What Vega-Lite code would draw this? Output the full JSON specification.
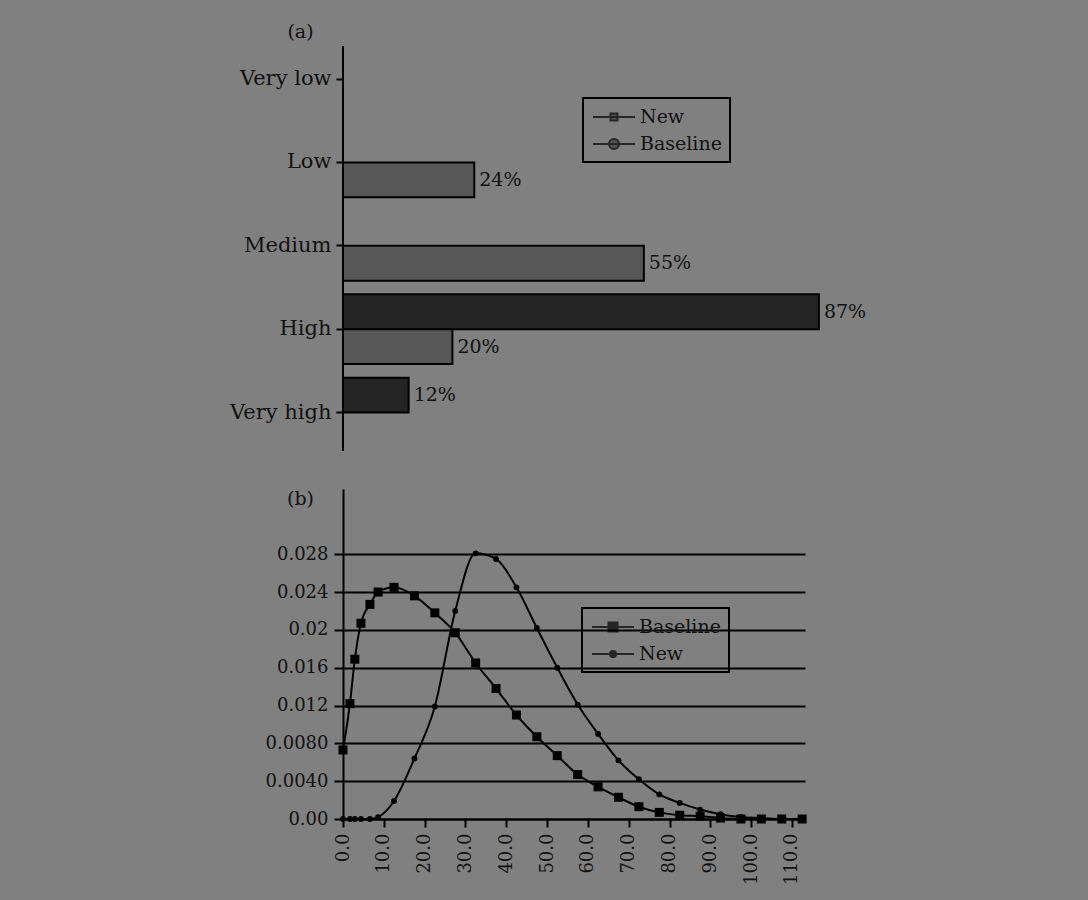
{
  "$schema": "https://vega.github.io/schema/vega-lite/v6.json",
  "background": "#808080",
  "autosize": {"type": "pad"},
  "padding": {"left": 229, "top": 22, "right": 198, "bottom": 20},
  "config": {
    "view": {"stroke": null},
    "font": "DejaVu Serif",
    "axis": {
      "labelFont": "DejaVu Serif",
      "titleFont": "DejaVu Serif",
      "labelColor": "#111",
      "titleColor": "#111",
      "titleFontWeight": "normal",
      "domainColor": "#000",
      "tickColor": "#000",
      "gridColor": "#000",
      "gridOpacity": 1
    },
    "legend": {
      "labelFont": "DejaVu Serif",
      "labelColor": "#111",
      "labelFontSize": 19,
      "labelLimit": 0,
      "strokeColor": "#000",
      "strokeWidth": 2,
      "padding": 8,
      "rowPadding": 6,
      "symbolSize": 400,
      "symbolStrokeWidth": 2,
      "labelOffset": 27
    }
  },
  "datasets": {
    "ratings": [
      {"level": "Low", "group": "New", "share": 0.24},
      {"level": "Medium", "group": "New", "share": 0.55},
      {"level": "Medium", "group": "Baseline", "share": 0.87},
      {"level": "High", "group": "New", "share": 0.20},
      {"level": "High", "group": "Baseline", "share": 0.12}
    ],
    "curves": [
      {"series": "Baseline", "value": 0, "density": 0.0073},
      {"series": "Baseline", "value": 1.7, "density": 0.0122},
      {"series": "Baseline", "value": 2.9, "density": 0.0169},
      {"series": "Baseline", "value": 4.4, "density": 0.0207},
      {"series": "Baseline", "value": 6.6, "density": 0.0227},
      {"series": "Baseline", "value": 8.6, "density": 0.0240},
      {"series": "Baseline", "value": 12.5, "density": 0.0245},
      {"series": "Baseline", "value": 17.5, "density": 0.0236},
      {"series": "Baseline", "value": 22.5, "density": 0.0218},
      {"series": "Baseline", "value": 27.5, "density": 0.0197},
      {"series": "Baseline", "value": 32.5, "density": 0.0165},
      {"series": "Baseline", "value": 37.5, "density": 0.0138},
      {"series": "Baseline", "value": 42.5, "density": 0.0110},
      {"series": "Baseline", "value": 47.5, "density": 0.0087},
      {"series": "Baseline", "value": 52.5, "density": 0.0067},
      {"series": "Baseline", "value": 57.5, "density": 0.0047},
      {"series": "Baseline", "value": 62.5, "density": 0.0034},
      {"series": "Baseline", "value": 67.5, "density": 0.0023},
      {"series": "Baseline", "value": 72.5, "density": 0.0013},
      {"series": "Baseline", "value": 77.5, "density": 0.0007},
      {"series": "Baseline", "value": 82.5, "density": 0.0004},
      {"series": "Baseline", "value": 87.5, "density": 0.0003},
      {"series": "Baseline", "value": 92.5, "density": 0.0001},
      {"series": "Baseline", "value": 97.5, "density": 0},
      {"series": "Baseline", "value": 102.5, "density": 0},
      {"series": "Baseline", "value": 107.5, "density": 0},
      {"series": "Baseline", "value": 112.5, "density": 0},
      {"series": "New", "value": 0, "density": 0},
      {"series": "New", "value": 1.7, "density": 0},
      {"series": "New", "value": 2.9, "density": 0},
      {"series": "New", "value": 4.4, "density": 0},
      {"series": "New", "value": 6.6, "density": 0},
      {"series": "New", "value": 8.6, "density": 0.0002},
      {"series": "New", "value": 12.5, "density": 0.0019},
      {"series": "New", "value": 17.5, "density": 0.0064},
      {"series": "New", "value": 22.5, "density": 0.0119},
      {"series": "New", "value": 27.5, "density": 0.0220},
      {"series": "New", "value": 32.5, "density": 0.0281},
      {"series": "New", "value": 37.5, "density": 0.0275},
      {"series": "New", "value": 42.5, "density": 0.0245},
      {"series": "New", "value": 47.5, "density": 0.0202},
      {"series": "New", "value": 52.5, "density": 0.0160},
      {"series": "New", "value": 57.5, "density": 0.0121},
      {"series": "New", "value": 62.5, "density": 0.0090},
      {"series": "New", "value": 67.5, "density": 0.0062},
      {"series": "New", "value": 72.5, "density": 0.0042},
      {"series": "New", "value": 77.5, "density": 0.0026},
      {"series": "New", "value": 82.5, "density": 0.0017},
      {"series": "New", "value": 87.5, "density": 0.0010},
      {"series": "New", "value": 92.5, "density": 0.0005},
      {"series": "New", "value": 97.5, "density": 0.0002},
      {"series": "New", "value": 102.5, "density": 0.0001},
      {"series": "New", "value": 107.5, "density": 0},
      {"series": "New", "value": 112.5, "density": 0}
    ]
  },
  "spacing": 38,
  "bounds": "flush",
  "resolve": {
    "scale": {"x": "independent", "y": "independent", "shape": "independent"},
    "legend": {"shape": "independent"}
  },
  "vconcat": [
    {
      "width": 547,
      "height": 405,
      "data": {"name": "ratings"},
      "layer": [
        {
          "mark": {"type": "rule", "stroke": "#000", "strokeWidth": 2},
          "encoding": {"x": {"datum": 0, "type": "quantitative", "axis": null}}
        },
        {
          "mark": {"type": "bar", "stroke": "#000", "strokeWidth": 2},
          "encoding": {
            "y": {
              "field": "level",
              "type": "nominal",
              "scale": {
                "domain": ["Very low", "Low", "Medium", "High", "Very high"],
                "range": [33, 450],
                "paddingInner": 0,
                "paddingOuter": 0
              },
              "axis": {
                "title": "(a)",
                "titleAngle": 0,
                "titleX": -43,
                "titleY": -5,
                "titleAlign": "center",
                "titleBaseline": "bottom",
                "titleFontSize": 19,
                "bandPosition": 0,
                "labelOffset": -41.7,
                "domain": false,
                "grid": false,
                "tickSize": 7,
                "tickWidth": 2,
                "labelFontSize": 21,
                "labelPadding": 5
              }
            },
            "yOffset": {
              "field": "group",
              "type": "nominal",
              "scale": {"domain": ["New", "Baseline"], "paddingInner": 0.28, "paddingOuter": 0}
            },
            "x": {
              "field": "share",
              "type": "quantitative",
              "stack": null,
              "scale": {"domain": [0, 1], "nice": false},
              "axis": null
            },
            "fill": {"condition": {"test": "datum.group === 'New'", "value": "#575757"}, "value": "#242424"}
          }
        },
        {
          "mark": {"type": "text", "align": "left", "baseline": "middle", "dx": 5, "fontSize": 19, "font": "DejaVu Serif", "color": "#111"},
          "encoding": {
            "y": {"field": "level", "type": "nominal"},
            "yOffset": {"field": "group", "type": "nominal"},
            "x": {"field": "share", "type": "quantitative", "axis": null},
            "text": {"field": "share", "type": "quantitative", "format": ".0%"}
          }
        },
        {
          "transform": [{"filter": "false"}],
          "mark": {"type": "point", "filled": false, "fill": "#3c3c3c", "stroke": "#000", "strokeWidth": 2},
          "encoding": {
            "y": {"field": "level", "type": "nominal"},
            "yOffset": {"field": "group", "type": "nominal"},
            "x": {"field": "share", "type": "quantitative", "axis": null},
            "shape": {
              "field": "group",
              "type": "nominal",
              "scale": {
                "domain": ["New", "Baseline"],
                "range": [
                  "M-0.9,0H3.3M0.85,-0.35H1.55V0.35H0.85Z",
                  "M-0.9,0H3.3M1.7,0A0.5,0.5 0 1,1 0.7,0A0.5,0.5 0 1,1 1.7,0Z"
                ]
              },
              "legend": {"orient": "none", "legendX": 240, "legendY": 52, "title": null}
            }
          }
        }
      ]
    },
    {
      "width": 462,
      "height": 330,
      "data": {"name": "curves"},
      "encoding": {
        "x": {
          "field": "value",
          "type": "quantitative",
          "scale": {"domain": [0, 113.2], "nice": false},
          "axis": {
            "title": null,
            "values": [0, 10, 20, 30, 40, 50, 60, 70, 80, 90, 100, 110],
            "labelExpr": "format(datum.value, '.1f')",
            "labelAngle": -90,
            "labelFontSize": 18,
            "labelPadding": 6,
            "tickSize": 8,
            "tickWidth": 2,
            "domainWidth": 2,
            "grid": false
          }
        },
        "y": {
          "field": "density",
          "type": "quantitative",
          "scale": {"domain": [0, 0.0349], "nice": false},
          "axis": {
            "title": "(b)",
            "titleAngle": 0,
            "titleX": -43,
            "titleY": 9,
            "titleAlign": "center",
            "titleBaseline": "middle",
            "titleFontSize": 19,
            "values": [0, 0.004, 0.008, 0.012, 0.016, 0.02, 0.024, 0.028],
            "labelExpr": "datum.value < 0.001 ? '0.00' : datum.value < 0.005 ? '0.0040' : datum.value < 0.009 ? '0.0080' : (datum.value > 0.019 && datum.value < 0.021) ? '0.02' : format(datum.value, '.3f')",
            "labelFontSize": 18,
            "labelPadding": 6,
            "tickSize": 9,
            "tickWidth": 2,
            "domainWidth": 2,
            "grid": true,
            "gridWidth": 2
          }
        }
      },
      "layer": [
        {
          "mark": {"type": "line", "interpolate": "monotone", "stroke": "#000", "strokeWidth": 2},
          "encoding": {"detail": {"field": "series", "type": "nominal"}}
        },
        {
          "mark": {"type": "point", "filled": true, "color": "#000", "opacity": 1},
          "encoding": {
            "shape": {"condition": {"test": "datum.series === 'Baseline'", "value": "square"}, "value": "circle"},
            "size": {"condition": {"test": "datum.series === 'Baseline'", "value": 81}, "value": 34}
          }
        },
        {
          "transform": [{"filter": "false"}],
          "mark": {"type": "point", "filled": false, "fill": "#000", "stroke": "#000", "strokeWidth": 2},
          "encoding": {
            "shape": {
              "field": "series",
              "type": "nominal",
              "scale": {
                "domain": ["Baseline", "New"],
                "range": [
                  "M-0.9,0H3.3M0.75,-0.45H1.65V0.45H0.75Z",
                  "M-0.9,0H3.3M1.5,0A0.3,0.3 0 1,1 0.9,0A0.3,0.3 0 1,1 1.5,0Z"
                ]
              },
              "legend": {"orient": "none", "legendX": 239, "legendY": 119, "title": null}
            }
          }
        }
      ]
    }
  ]
}
